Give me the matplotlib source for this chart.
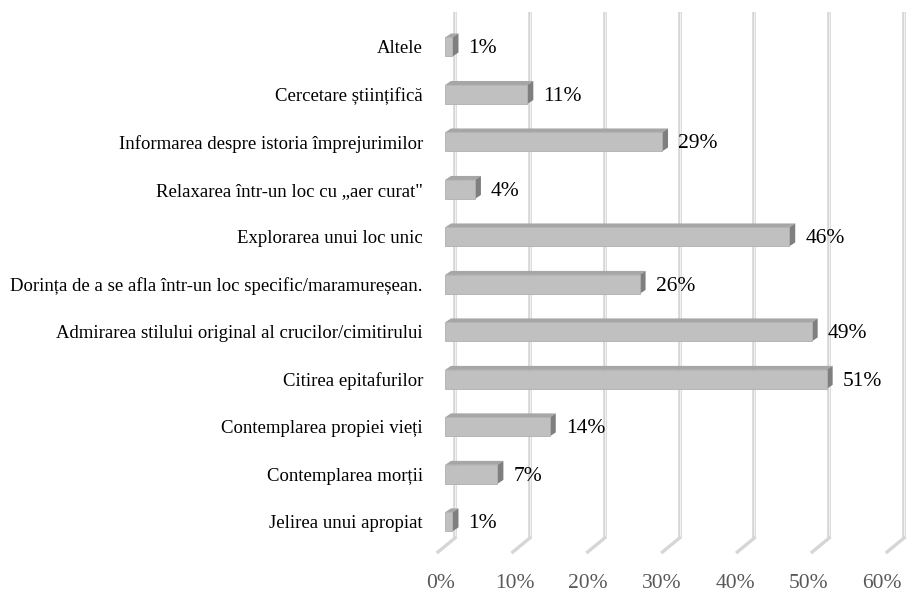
import matplotlib.pyplot as plt
from matplotlib.patches import Polygon
import numpy as np

CATEGORIES = [
    "Altele",
    "Cercetare științifică",
    "Informarea despre istoria împrejurimilor",
    "Relaxarea într-un loc cu „aer curat\"",
    "Explorarea unui loc unic",
    "Dorința de a se afla într-un loc specific/maramureșean.",
    "Admirarea stilului original al crucilor/cimitirului",
    "Citirea epitafurilor",
    "Contemplarea propiei vieți",
    "Contemplarea morții",
    "Jelirea unui apropiat",
]
VALUES = [1, 11, 29, 4, 46, 26, 49, 51, 14, 7, 1]
TICKS = [0, 10, 20, 30, 40, 50, 60]
TICK_LABELS = ["0%", "10%", "20%", "30%", "40%", "50%", "60%"]

W, H = 908, 592
plt.rcParams["font.family"] = ["Liberation Serif", "DejaVu Serif"]

fig = plt.figure(figsize=(W / 100, H / 100), dpi=100)
# axes box = back wall of the 3D plot, in pixels
ax_l, ax_r, ax_t, ax_b = 455, 904, 12, 538
ax = fig.add_axes([ax_l / W, 1 - ax_b / H, (ax_r - ax_l) / W, (ax_b - ax_t) / H])
ax.set_xlim(0, 60)
ax.set_ylim(10.34, -0.737)
ax.axis("off")

px_x = (ax_r - ax_l) / 60.0
px_y = (ax_b - ax_t) / (10.34 + 0.737)

# 3D offsets in pixels converted to data units
shift = -10 / px_x          # bar front face sits in front of the back wall
ddx = 6 / px_x              # bar depth, horizontal
ddy = 4 / px_y              # bar depth, vertical (up = smaller y)
half = 9.5 / px_y           # half-height of the front face
floor_dx = -17 / px_x
floor_dy = 14 / px_y

# gridlines: back wall verticals + floor diagonals
for t in TICKS:
    ax.plot([t, t], [-0.737, 10.34], color="#D6D6D6", lw=2.6, solid_capstyle="butt",
            clip_on=False, zorder=1)
    ax.plot([t, t], [-0.737, 10.34], color="#F2F2F2", lw=0.7, solid_capstyle="butt",
            clip_on=False, zorder=1)
    ax.plot([t, t + floor_dx], [10.34, 10.34 + floor_dy], color="#D6D6D6", lw=2.4,
            clip_on=False, zorder=1)

y = np.arange(len(CATEGORIES))
for yi, v in zip(y, VALUES):
    x0 = shift
    x1 = shift + v
    yt, yb = yi - half, yi + half
    ax.add_patch(Polygon([(x0, yt), (x1, yt), (x1 + ddx, yt - ddy), (x0 + ddx, yt - ddy)],
                         closed=True, facecolor="#A6A6A6", edgecolor="none", zorder=3,
                         clip_on=False))
    ax.add_patch(Polygon([(x1, yb), (x1, yt), (x1 + ddx, yt - ddy), (x1 + ddx, yb - ddy)],
                         closed=True, facecolor="#7F7F7F", edgecolor="none", zorder=3,
                         clip_on=False))
    ax.add_patch(Polygon([(x0, yb), (x1, yb), (x1, yt), (x0, yt)],
                         closed=True, facecolor="#C0C0C0", edgecolor="#B0B0B0", lw=0.6,
                         zorder=4, clip_on=False))
    ax.text(x1 + ddx + 10 / px_x, yi + 2 / px_y, f"{v}%", ha="left", va="center",
            fontsize=15.5, color="black", zorder=5)
    ax.text(-32 / px_x, yi + 2 / px_y, CATEGORIES[yi], ha="right", va="center",
            fontsize=13.5, color="black")

for t, lab in zip(TICKS, TICK_LABELS):
    front_px = 441 + t * 7.35
    ax.text((front_px - ax_l) / px_x, 10.34 + 46 / px_y, lab, ha="center", va="center",
            fontsize=15.5, color="#595959")

fig.savefig("out.png", dpi=100)
